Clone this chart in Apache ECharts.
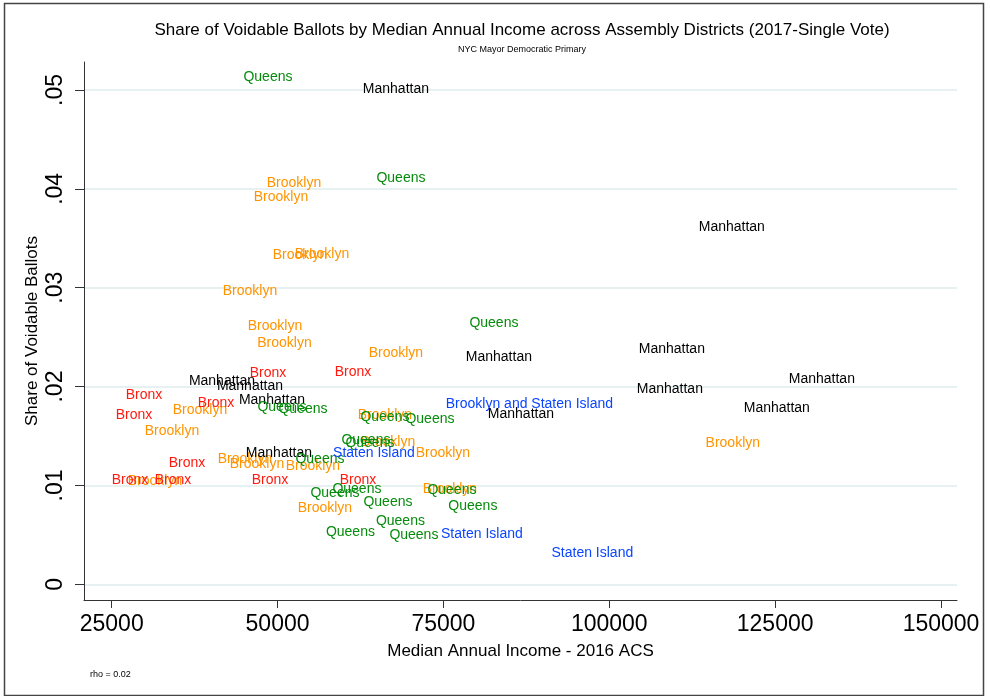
<!DOCTYPE html>
<html>
<head>
<meta charset="utf-8">
<script src="https://cdn.jsdelivr.net/npm/echarts@6/dist/echarts.min.js"></script>
<style>
  html, body { margin: 0; padding: 0; background: #fff; }
  #chart { width: 990px; height: 696px; }
</style>
</head>
<body>
<div id="chart"></div>
<script>
// Median household income (2016 ACS) and share of voidable ballots per Assembly District
const brooklynIncome = [52470, 50510, 53380, 56690, 45840, 49610, 51040, 67840, 118620, 38310, 34090, 66180, 66640, 74920, 45090, 46900, 55330, 31530, 75980, 57140];
const brooklynShare  = [0.0406, 0.0392, 0.0333, 0.0334, 0.0297, 0.0261, 0.0244, 0.0234, 0.0143, 0.0176, 0.0155, 0.0171, 0.0144, 0.0133, 0.0127, 0.0122, 0.0119, 0.0104, 0.0096, 0.0077];

const brooklynSiIncome = [87960];
const brooklynSiShare  = [0.0182];

const bronxIncome = [61360, 48550, 29870, 40720, 28360, 36350, 27760, 34240, 48850, 62120];
const bronxShare  = [0.0215, 0.0214, 0.0191, 0.0183, 0.0171, 0.0123, 0.0105, 0.0105, 0.0105, 0.0105];

const manhattanIncome = [67840, 118470, 83360, 109430, 132040, 109130, 125250, 86680, 41620, 45840, 49160, 50210];
const manhattanShare  = [0.0501, 0.0361, 0.0230, 0.0238, 0.0208, 0.0197, 0.0178, 0.0172, 0.0205, 0.0200, 0.0186, 0.0133];

const queensIncome = [48550, 68600, 82610, 50660, 53830, 66180, 72970, 63320, 63920, 56390, 58650, 61960, 76280, 79440, 66640, 68520, 60980, 70550];
const queensShare  = [0.0513, 0.0411, 0.0264, 0.0179, 0.0177, 0.0169, 0.0167, 0.0146, 0.0143, 0.0127, 0.0092, 0.0096, 0.0095, 0.0079, 0.0083, 0.0064, 0.0053, 0.0050];

const statenIncome = [64530, 80800, 97450];
const statenShare  = [0.0133, 0.0051, 0.0032];

const xTicks = [25000, 50000, 75000, 100000, 125000, 150000];
const yTicks = [0, 0.01, 0.02, 0.03, 0.04, 0.05];

const FONT = '"Liberation Sans", Arial, Helvetica, sans-serif';

function pairs(xs, ys) {
  return xs.map((x, i) => [x, ys[i]]);
}

// Each district is drawn as its borough name centred on the data point
function labelSeries(name, xs, ys, color) {
  return {
    name: name,
    type: 'scatter',
    data: pairs(xs, ys),
    symbol: 'circle',
    symbolSize: 1,
    itemStyle: { color: 'rgba(0,0,0,0)', opacity: 1 },
    silent: true,
    label: {
      show: true,
      position: 'inside',
      align: 'center',
      verticalAlign: 'middle',
      formatter: name,
      color: color,
      fontSize: 14,
      fontFamily: FONT
    },
    labelLayout: { hideOverlap: false },
    emphasis: { disabled: true }
  };
}

const chart = echarts.init(document.getElementById('chart'), null, { renderer: 'canvas' });

chart.setOption({
  animation: false,
  backgroundColor: '#ffffff',
  title: {
    text: 'Share of Voidable Ballots by Median Annual Income across Assembly Districts (2017-Single Vote)',
    subtext: 'NYC Mayor Democratic Primary',
    left: 517,
    textAlign: 'center',
    top: 17,
    itemGap: 6,
    textStyle: { fontFamily: FONT, fontSize: 17, fontWeight: 'normal', color: '#000' },
    subtextStyle: { fontFamily: FONT, fontSize: 9, color: '#000' }
  },
  grid: { left: 84, right: 33, top: 62, bottom: 96, containLabel: false },
  xAxis: {
    type: 'value',
    min: 20826,
    max: 152411,
    name: 'Median Annual Income - 2016 ACS',
    nameLocation: 'middle',
    nameGap: 43,
    nameMoveOverlap: false,
    nameTextStyle: { fontFamily: FONT, fontSize: 17, color: '#000' },
    axisLine: { show: true, onZero: false, lineStyle: { color: '#333', width: 1 } },
    axisTick: { show: true, length: 8, customValues: xTicks, lineStyle: { color: '#333' } },
    axisLabel: {
      customValues: xTicks,
      fontFamily: FONT, fontSize: 23, color: '#000', margin: 13,
      formatter: v => String(v)
    },
    splitLine: { show: false }
  },
  yAxis: {
    type: 'value',
    min: -0.00159,
    max: 0.05283,
    name: 'Share of Voidable Ballots',
    nameLocation: 'middle',
    nameGap: 43,
    nameMoveOverlap: false,
    nameTextStyle: { fontFamily: FONT, fontSize: 17, color: '#000' },
    axisLine: { show: true, onZero: false, lineStyle: { color: '#333', width: 1 } },
    axisTick: { show: true, length: 9, customValues: yTicks, lineStyle: { color: '#333' } },
    axisLabel: {
      customValues: yTicks,
      rotate: 90,
      fontFamily: FONT, fontSize: 23, color: '#000', margin: 17,
      formatter: v => (v === 0 ? '0' : String(Math.round(v * 100) / 100).replace(/^0/, ''))
    },
    splitLine: { show: true, lineStyle: { color: '#e1eded', width: 1.5 } }
  },
  graphic: [
    {
      type: 'rect',
      left: 2, top: 1,
      shape: { width: 979, height: 692 },
      style: { fill: 'none', stroke: '#444', lineWidth: 1.5 },
      silent: true
    },
    {
      type: 'text',
      left: 90, top: 670,
      style: { text: 'rho = 0.02', font: '9px ' + FONT, fill: '#000' },
      silent: true
    }
  ],
  series: [
    labelSeries('Brooklyn', brooklynIncome, brooklynShare, '#ff9400'),
    labelSeries('Brooklyn and Staten Island', brooklynSiIncome, brooklynSiShare, '#0a45ff'),
    labelSeries('Bronx', bronxIncome, bronxShare, '#ff1a10'),
    labelSeries('Manhattan', manhattanIncome, manhattanShare, '#000000'),
    labelSeries('Queens', queensIncome, queensShare, '#068c0c'),
    labelSeries('Staten Island', statenIncome, statenShare, '#0a45ff')
  ]
});
</script>
</body>
</html>
